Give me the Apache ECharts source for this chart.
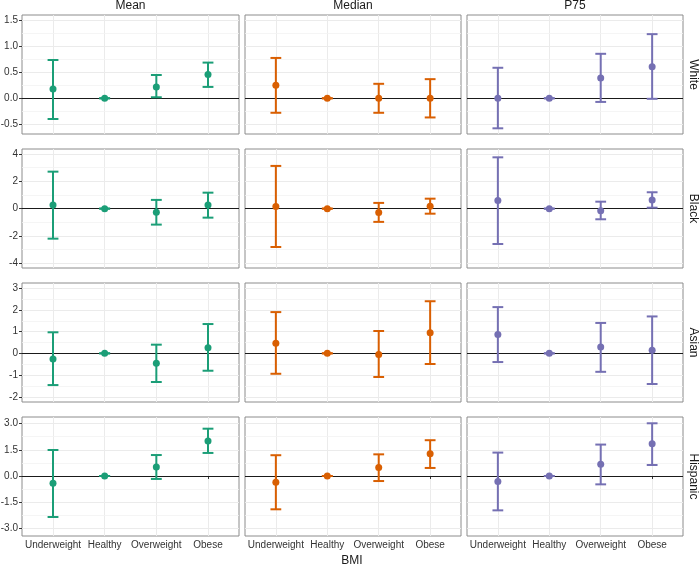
<!DOCTYPE html>
<html>
<head>
<meta charset="utf-8">
<script src="https://cdn.jsdelivr.net/npm/echarts@6/dist/echarts.min.js"></script>
<style>
  html, body { margin: 0; padding: 0; background: #fff; }
  #chart { width: 699px; height: 566px; }
</style>
</head>
<body>
<div id="chart"></div>
<script>
const categories = ['Underweight', 'Healthy', 'Overweight', 'Obese'];
const stats = ['Mean', 'Median', 'P75'];
const groups = ['White', 'Black', 'Asian', 'Hispanic'];
const colors = ['#1b9e77', '#d95f02', '#7570b3'];

// estimate / lower / upper, one row per stat (Mean, Median, P75), one value per BMI category
const whiteEst  = [[0.18, 0, 0.22, 0.46], [0.25, 0, 0, 0], [0, 0, 0.39, 0.61]];
const whiteLow  = [[-0.40, 0, 0.02, 0.22], [-0.28, 0, -0.28, -0.37], [-0.58, 0, -0.07, -0.01]];
const whiteHigh = [[0.74, 0, 0.45, 0.69], [0.78, 0, 0.28, 0.37], [0.59, 0, 0.86, 1.24]];

const blackEst  = [[0.27, 0, -0.27, 0.27], [0.15, 0, -0.29, 0.17], [0.59, 0, -0.15, 0.64]];
const blackLow  = [[-2.20, 0, -1.17, -0.66], [-2.81, 0, -0.97, -0.37], [-2.59, 0, -0.78, 0.07]];
const blackHigh = [[2.71, 0, 0.64, 1.17], [3.13, 0, 0.42, 0.73], [3.76, 0, 0.51, 1.20]];

const asianEst  = [[-0.26, 0, -0.46, 0.26], [0.47, 0, -0.05, 0.95], [0.87, 0, 0.29, 0.14]];
const asianLow  = [[-1.46, 0, -1.32, -0.80], [-0.94, 0, -1.09, -0.49], [-0.40, 0, -0.85, -1.41]];
const asianHigh = [[0.97, 0, 0.40, 1.35], [1.90, 0, 1.03, 2.40], [2.13, 0, 1.40, 1.70]];

const hispEst   = [[-0.42, 0, 0.52, 2.01], [-0.36, 0, 0.48, 1.28], [-0.31, 0, 0.67, 1.84]];
const hispLow   = [[-2.35, 0, -0.17, 1.32], [-1.91, 0, -0.29, 0.46], [-1.97, 0, -0.48, 0.63]];
const hispHigh  = [[1.49, 0, 1.20, 2.71], [1.19, 0, 1.24, 2.05], [1.34, 0, 1.80, 3.02]];

// y axis per row
const yTicks = [[-0.5, 0, 0.5, 1, 1.5], [-4, -2, 0, 2, 4], [-2, -1, 0, 1, 2, 3], [-3, -1.5, 0, 1.5, 3]];
const yMinor = [[-0.25, 0.25, 0.75, 1.25], [-3, -1, 1, 3], [-1.5, -0.5, 0.5, 1.5, 2.5], [-2.25, -0.75, 0.75, 2.25]];
const yDecimals = [1, 0, 0, 1];
const yLimits = [[-0.69, 1.61], [-4.35, 4.37], [-2.24, 3.24], [-3.44, 3.38]];

const estRows = [whiteEst, blackEst, asianEst, hispEst];
const lowRows = [whiteLow, blackLow, asianLow, hispLow];
const highRows = [whiteHigh, blackHigh, asianHigh, hispHigh];

const font = 'Liberation Sans, Arial, Helvetica, sans-serif';
const panelLeft = [22, 245, 467];
const panelWidth = [217, 216, 216];
const panelTop = [15, 149, 283, 417];
const panelHeight = 119;

const chart = echarts.init(document.getElementById('chart'));

const grids = [], xAxes = [], yAxes = [], series = [], graphics = [];
const xTickVals = categories.map((_, i) => i + 1);

for (let r = 0; r < groups.length; r++) {
  for (let c = 0; c < stats.length; c++) {
    const idx = r * 3 + c;
    const dec = yDecimals[r];
    grids.push({
      left: panelLeft[c], top: panelTop[r], width: panelWidth[c], height: panelHeight,
      outerBoundsMode: 'none', containLabel: false,
      show: true, borderColor: '#8c8c8c', borderWidth: 1, backgroundColor: 'transparent'
    });
    xAxes.push({
      gridIndex: idx, type: 'value', min: 0.4, max: 4.6,
      axisLine: { show: false },
      axisTick: { show: r === 3, length: 3, customValues: xTickVals, lineStyle: { color: '#333' } },
      axisLabel: {
        show: r === 3, customValues: xTickVals, margin: 4,
        formatter: v => categories[Math.round(v) - 1],
        color: '#333', fontSize: 10, fontFamily: font
      },
      splitLine: { show: true, lineStyle: { color: '#ebebeb', width: 1 } }
    });
    yAxes.push({
      gridIndex: idx, type: 'value', min: yLimits[r][0], max: yLimits[r][1],
      axisLine: { show: false },
      axisTick: { show: c === 0, length: 3, customValues: yTicks[r], lineStyle: { color: '#333' } },
      axisLabel: {
        show: c === 0, customValues: yTicks[r], margin: 4,
        formatter: v => v.toFixed(dec),
        color: '#333', fontSize: 10, fontFamily: font
      },
      splitLine: { show: true, lineStyle: { color: '#ebebeb', width: 1 } }
    });

    // minor grid lines
    series.push({
      type: 'line', xAxisIndex: idx, yAxisIndex: idx, data: [], z: 1, silent: true,
      markLine: {
        z: 1, silent: true, symbol: ['none', 'none'], label: { show: false },
        lineStyle: { color: '#f2f2f2', width: 0.8, type: 'solid' },
        data: yMinor[r].map(v => ({ yAxis: v }))
      }
    });
    // zero reference line
    series.push({
      type: 'line', xAxisIndex: idx, yAxisIndex: idx, data: [], z: 2, silent: true,
      markLine: {
        z: 2, silent: true, symbol: ['none', 'none'], label: { show: false },
        lineStyle: { color: '#1a1a1a', width: 1.2, type: 'solid' },
        data: [{ yAxis: 0 }]
      }
    });

    const col = colors[c];
    // error bars
    series.push({
      type: 'custom', xAxisIndex: idx, yAxisIndex: idx, z: 3,
      data: categories.map((_, i) => [i + 1, lowRows[r][c][i], highRows[r][c][i]]),
      encode: { x: 0, y: [1, 2] },
      renderItem: function (params, api) {
        const x = api.value(0);
        const lo = api.coord([x, api.value(1)]);
        const hi = api.coord([x, api.value(2)]);
        const xl = api.coord([x - 0.105, 0])[0];
        const xr = api.coord([x + 0.105, 0])[0];
        const style = { stroke: col, lineWidth: 2 };
        return {
          type: 'group',
          children: [
            { type: 'line', shape: { x1: lo[0], y1: lo[1], x2: hi[0], y2: hi[1] }, style: style },
            { type: 'line', shape: { x1: xl, y1: hi[1], x2: xr, y2: hi[1] }, style: style },
            { type: 'line', shape: { x1: xl, y1: lo[1], x2: xr, y2: lo[1] }, style: style }
          ]
        };
      }
    });
    // point estimates
    series.push({
      type: 'scatter', xAxisIndex: idx, yAxisIndex: idx, z: 4,
      symbol: 'circle', symbolSize: 7,
      itemStyle: { color: col, opacity: 1 },
      data: estRows[r][c].map((v, i) => [i + 1, v])
    });
  }
}

stats.forEach((s, c) => {
  graphics.push({
    type: 'text', x: panelLeft[c] + panelWidth[c] / 2, y: 6,
    style: { text: s, fill: '#1a1a1a', font: '12px ' + font, textAlign: 'center', textVerticalAlign: 'middle' }
  });
});
groups.forEach((g, r) => {
  graphics.push({
    type: 'text', x: 693, y: panelTop[r] + panelHeight / 2, rotation: -Math.PI / 2,
    style: { text: g, fill: '#1a1a1a', font: '12px ' + font, textAlign: 'center', textVerticalAlign: 'middle' }
  });
});
graphics.push({
  type: 'text', x: 352, y: 561,
  style: { text: 'BMI', fill: '#1a1a1a', font: '12px ' + font, textAlign: 'center', textVerticalAlign: 'middle' }
});

chart.setOption({
  animation: false,
  backgroundColor: '#fff',
  grid: grids,
  xAxis: xAxes,
  yAxis: yAxes,
  series: series,
  graphic: graphics
});
</script>
</body>
</html>
